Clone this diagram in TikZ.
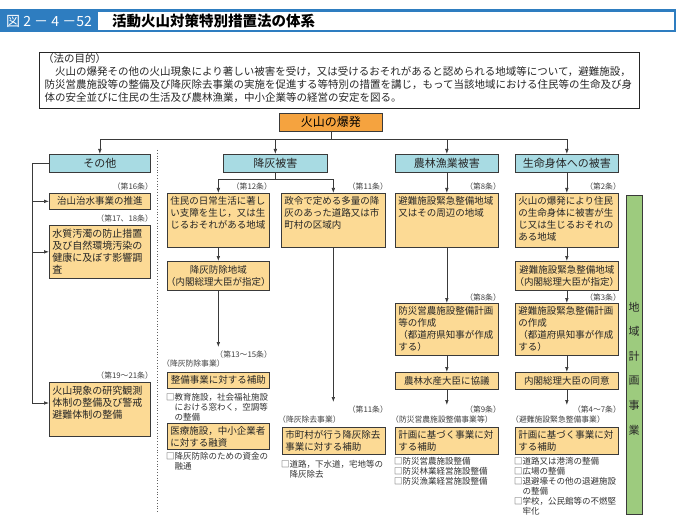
\documentclass[tikz,border=0pt]{standalone}
\usepackage{fontspec}
\setmainfont{Noto Sans CJK JP}
\usetikzlibrary{arrows.meta,calc}
\definecolor{titleblue}{HTML}{2E7DC0}
\definecolor{catcyan}{HTML}{A8DBE3}
\definecolor{boxy}{HTML}{FCDA95}
\definecolor{eruptc}{HTML}{F5A33F}
\definecolor{planG}{HTML}{9DCB7E}
\definecolor{lc}{HTML}{3A3A3A}
\newcommand{\tbx}[3]{\parbox[c][#2][t]{#1}{\raggedright #3}}
\newcommand{\ind}{\hspace*{1em}}
\tikzset{
 ln/.style={draw=lc, line width=0.7pt},
 arr/.style={draw=lc, line width=0.7pt, -{Latex[length=5pt,width=3.6pt]}},
 ybox/.style={draw=lc, line width=0.7pt, fill=boxy, inner xsep=3pt, inner ysep=3.5pt, anchor=north west, font=\fontsize{9.5}{12}\selectfont, text=black!85},
 ycen/.style={draw=lc, line width=0.7pt, fill=boxy, inner sep=0pt, anchor=north west, font=\fontsize{9.5}{12}\selectfont, text=black!85, align=center},
 cbox/.style={draw=lc, line width=0.7pt, fill=catcyan, inner sep=0pt, anchor=north west, font=\fontsize{11}{13}\selectfont, text=black!85},
 lab/.style={font=\fontsize{7.8}{9}\selectfont, inner sep=0pt, text=black!75},
 note/.style={font=\fontsize{8.5}{10}\selectfont, inner sep=0pt, align=left, anchor=north west, text=black!80},
 ptext/.style={font=\fontsize{10.5}{13}\selectfont, inner sep=0pt, anchor=base west, text=black!85},
}
\begin{document}
\begin{tikzpicture}[x=1pt,y=-1pt]
\useasboundingbox (0,0) rectangle (678,524);
\fill[white] (0,0) rectangle (678,524);
% title bar
\fill[titleblue] (0,9.5) rectangle (676,32.5);
\fill[white] (98,11.8) rectangle (673.5,30.3);
\node[anchor=west, text=white, inner sep=0pt, font=\fontsize{14}{14}\selectfont] (fignum) at (6,21) {図 2 － 4 －52};
\node[anchor=west, inner sep=0pt, font=\fontsize{14.5}{15}\selectfont\bfseries] (title) at (112,21) {活動火山対策特別措置法の体系};
% purpose
\node[draw=black!85, line width=1.3pt, minimum width=600pt, minimum height=56pt, anchor=north west, inner sep=0pt] (purpose) at (39,52) {};
\node[ptext] (p0) at (43,63) {（法の目的）};
\node[ptext] (p1) at (44.5,76) {\hspace*{1em}火山の爆発その他の火山現象により著しい被害を受け，又は受けるおそれがあると認められる地域等について，避難施設，};
\node[ptext] (p2) at (44.5,89) {防災営農施設等の整備及び降灰除去事業の実施を促進する等特別の措置を講じ，もって当該地域における住民等の生命及び身};
\node[ptext] (p3) at (44.5,102) {体の安全並びに住民の生活及び農林漁業，中小企業等の経営の安定を図る。};
% eruption
\node[draw=lc, line width=0.7pt, fill=eruptc, inner sep=0pt, anchor=north west, minimum width=103pt, minimum height=18pt, font=\fontsize{12}{13}\selectfont] (erupt) at (279,113) {火山の爆発};
% categories
\node[cbox, minimum width=101pt, minimum height=18pt] (other) at (49,154) {その他};
\node[cbox, minimum width=104pt, minimum height=18pt] (saikai) at (223,154) {降灰被害};
\node[cbox, minimum width=103pt, minimum height=18pt] (norin) at (395,154) {農林漁業被害};
\node[cbox, minimum width=103pt, minimum height=18pt] (seimei) at (515,154) {生命身体への被害};
% dotted separator
\draw[lc!80, line width=0.8pt, dotted] (157,150) -- (157,512);
% bus
\coordinate (bus) at ($(erupt.south)+(0,8)$);
\draw[ln] (erupt.south) -- (bus);
\draw[arr] (bus) -| (other.north);
\draw[arr] (bus) -| (saikai.north);
\draw[arr] (bus) -| (norin.north);
\draw[arr] (bus) -| (seimei.north);
% ---- その他 column
\node[lab, anchor=east] (lo1) at (153,187) {（第16条）};
\node[ycen, minimum width=101pt, minimum height=16pt] (o1) at (49,193) {治山治水事業の推進};
\node[lab, anchor=east] (lo2) at (153,219) {（第17、18条）};
\node[ybox, font=\fontsize{10}{12}\selectfont, inner ysep=3.5pt] (o2) at (49,225) {\tbx{95pt}{46pt}{水質汚濁の防止措置\\及び自然環境汚染の\\健康に及ぼす影響調\\査}};
\node[lab, anchor=east] (lo3) at (153,376) {（第19～21条）};
\node[ybox, font=\fontsize{10}{12}\selectfont, inner ysep=3.5pt] (o3) at (49,382) {\tbx{95pt}{47pt}{火山現象の研究観測\\体制の整備及び警戒\\避難体制の整備}};
\coordinate (ot) at ($(other.west)+(-17,0)$);
\coordinate (o3tip) at ($(o3.north west)+(0,21)$);
\draw[ln] (other.west) -- (ot) -- (ot |- o3tip);
\draw[arr] (ot |- o1.west) -- (o1.west);
\draw[arr] (ot |- o2.west) -- (o2.west);
\draw[arr] (ot |- o3tip) -- (o3tip);
% ---- 降灰被害 column
\node[lab, anchor=east] (lA) at (272,187) {（第12条）};
\node[ybox] (A) at (167,193) {\tbx{96pt}{47pt}{住民の日常生活に著し\\い支障を生じ，又は生\\じるおそれがある地域}};
\node[ycen, minimum width=102pt, minimum height=29pt, text width=96pt] (B) at (167,261) {降灰防除地域\\\makebox[96pt]{（内閣総理大臣が指定）}};
\node[lab, anchor=east] (lC) at (388,187) {（第11条）};
\node[ybox] (C) at (281,193) {\tbx{98pt}{47pt}{政令で定める多量の降\\灰のあった道路又は市\\町村の区域内}};
\coordinate (sk) at ($(saikai.south)+(0,7)$);
\draw[ln] (saikai.south) -- (sk);
\draw[arr] (sk) -| (A.north);
\draw[arr] (sk) -| (C.north);
\draw[arr] (A.south) -- (B.north);
\node[lab, anchor=east] (lD1) at (272,355) {（第13～15条）};
\node[lab, anchor=west] (lD2) at (162,364) {（降灰防除事業）};
\node[ycen, minimum width=102pt, minimum height=16pt] (D) at (167,372) {整備事業に対する補助};
\coordinate (Dend) at ($(D.north)+(0,-25)$);
\draw[arr] (B.south) -- (Dend);
\node[note] (nD) at (166,393) {□教育施設，社会福祉施設\\\ind における窓わく，空調等\\\ind の整備};
\node[ybox] (E) at (167,423) {\tbx{96pt}{19pt}{医療施設，中小企業者\\に対する融資}};
\node[note] (nE) at (166,452) {□降灰防除のための資金の\\\ind 融通};
\node[lab, anchor=east] (lF1) at (388,410) {（第11条）};
\node[lab, anchor=west] (lF2) at (278,420) {（降灰除去事業）};
\node[ybox] (F) at (282,427) {\tbx{97pt}{20pt}{市町村が行う降灰除去\\事業に対する補助}};
\coordinate (Fend) at ($(C.south |- F.north)+(0,-25)$);
\draw[arr] (C.south) -- (Fend);
\node[note] (nF) at (281,460) {□道路，下水道，宅地等の\\\ind 降灰除去};
% ---- 農林漁業被害 column
\node[lab, anchor=east] (lG) at (501,187) {（第8条）};
\node[ybox] (G) at (395,193) {\tbx{97pt}{47pt}{避難施設緊急整備地域\\又はその周辺の地域}};
\node[lab, anchor=east] (lH) at (501,298) {（第8条）};
\node[ybox] (H) at (395,303) {\tbx{97pt}{45pt}{防災営農施設整備計画\\等の作成\\（都道府県知事が作成\\する）}};
\node[ycen, minimum width=103pt, minimum height=17pt] (I) at (395,372) {農林水産大臣に協議};
\node[lab, anchor=east] (lJ1) at (501,410) {（第9条）};
\node[lab, anchor=west] (lJ2) at (391,420) {（防災営農施設整備事業等）};
\node[ybox] (J) at (395,427) {\tbx{97pt}{20pt}{計画に基づく事業に対\\する補助}};
\node[note] (nJ) at (394,457) {□防災営農施設整備\\□防災林業経営施設整備\\□防災漁業経営施設整備};
\coordinate (Jend) at ($(J.north)+(0,-22)$);
\draw[arr] (norin.south) -- (G.north);
\draw[arr] (G.south) -- (H.north);
\draw[arr] (H.south) -- (I.north);
\draw[arr] (I.south) -- (Jend);
% ---- 生命身体への被害 column
\node[lab, anchor=east] (lK) at (621,187) {（第2条）};
\node[ybox] (K) at (515,193) {\tbx{97pt}{47pt}{火山の爆発により住民\\の生命身体に被害が生\\じ又は生じるおそれの\\ある地域}};
\node[ycen, minimum width=103pt, minimum height=29pt, text width=97pt] (L) at (515,261) {避難施設緊急整備地域\\\makebox[97pt]{（内閣総理大臣が指定）}};
\node[lab, anchor=east] (lM) at (621,298) {（第3条）};
\node[ybox] (M) at (515,303) {\tbx{97pt}{45pt}{避難施設緊急整備計画\\の作成\\（都道府県知事が作成\\する）}};
\node[ycen, minimum width=103pt, minimum height=17pt] (N) at (515,372) {内閣総理大臣の同意};
\node[lab, anchor=east] (lO1) at (621,410) {（第4～7条）};
\node[lab, anchor=west] (lO2) at (511,420) {（避難施設緊急整備事業）};
\node[ybox] (O) at (515,427) {\tbx{97pt}{20pt}{計画に基づく事業に対\\する補助}};
\node[note] (nO) at (514,457) {□道路又は港湾の整備\\□広場の整備\\□退避壕その他の退避施設\\\ind の整備\\□学校，公民館等の不燃堅\\\ind 牢化};
\coordinate (Oend) at ($(O.north)+(0,-22)$);
\draw[arr] (seimei.south) -- (K.north);
\draw[arr] (K.south) -- (L.north);
\draw[arr] (L.south) -- (M.north);
\draw[arr] (M.south) -- (N.north);
\draw[arr] (N.south) -- (Oend);
% ---- 地域計画事業
\node[draw=lc, line width=0.7pt, fill=planG, minimum width=16pt, minimum height=319pt, inner sep=0pt, anchor=north west] (plan) at (626,195) {};
\node[font=\fontsize{11}{24.6}\selectfont, align=center, inner sep=0pt, text=black!85] (plantxt) at (634,368.5) {地\\域\\計\\画\\事\\業};
\end{tikzpicture}
\end{document}
